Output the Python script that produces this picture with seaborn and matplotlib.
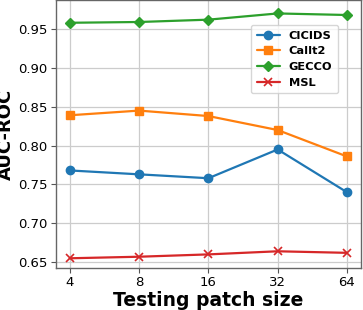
import matplotlib
matplotlib.use("Agg")
import matplotlib.pyplot as plt
import seaborn as sns
import pandas as pd

patch_sizes = ["4", "8", "16", "32", "64"]
cicids = [0.768, 0.763, 0.758, 0.795, 0.740]
callt2 = [0.839, 0.845, 0.838, 0.820, 0.786]
gecco = [0.958, 0.959, 0.962, 0.970, 0.968]
msl = [0.655, 0.657, 0.660, 0.664, 0.662]

series = {"CICIDS": cicids, "Callt2": callt2, "GECCO": gecco, "MSL": msl}
markers = {"CICIDS": "o", "Callt2": "s", "GECCO": "D", "MSL": "x"}
colors = {"CICIDS": "#1f77b4", "Callt2": "#ff7f0e", "GECCO": "#2ca02c", "MSL": "#d62728"}

rows = []
for name, vals in series.items():
    for i, (p, v) in enumerate(zip(patch_sizes, vals)):
        rows.append({"pos": i, "patch": p, "auc": v, "dataset": name})
df = pd.DataFrame(rows)

sns.set_theme(style="whitegrid")
plt.rcParams['font.family'] = ['DejaVu Sans']
plt.rcParams['text.color'] = 'black'
plt.rcParams['axes.labelcolor'] = 'black'

fig = plt.figure(figsize=(3.63, 3.10), dpi=100)
ax = fig.add_axes([0.154, 0.135, 0.840, 0.865])

for name in series:
    sub = df[df["dataset"] == name]
    sns.lineplot(data=sub, x="pos", y="auc", ax=ax, color=colors[name],
                 marker=markers[name], markersize=6 if markers[name] != "D" else 5.5,
                 linewidth=1.6,
                 markeredgewidth=1 if markers[name] != "x" else 1.2,
                 markeredgecolor=colors[name], label=name)

ax.set_xticks(range(len(patch_sizes)))
ax.set_xticklabels(patch_sizes)
ax.set_xlim(-0.2, 4.2)
ax.set_yticks([0.65, 0.70, 0.75, 0.80, 0.85, 0.90, 0.95])
ax.set_ylim(0.6423, 0.9873)
ax.tick_params(axis="both", labelsize=9.5, length=3.5, width=0.8, color="#555555",
               labelcolor="black", left=True, bottom=True, pad=2.5)
ax.set_xlabel("Testing patch size", fontsize=13.5, fontweight="bold", labelpad=1)
ax.set_ylabel("AUC-ROC", fontsize=13, fontweight="bold", labelpad=2)
for s in ax.spines.values():
    s.set_color("#666666")
    s.set_linewidth(1.0)
ax.grid(True, color="#cccccc", linewidth=0.9)

leg = ax.legend(loc="upper right", bbox_to_anchor=(0.925, 0.907), borderaxespad=0,
                prop={"weight": "bold", "size": 8.2},
                frameon=True, handlelength=2.0, borderpad=0.5, labelspacing=0.5)
for t in leg.get_texts():
    t.set_color("black")

fig.savefig("out.png", dpi=100)
